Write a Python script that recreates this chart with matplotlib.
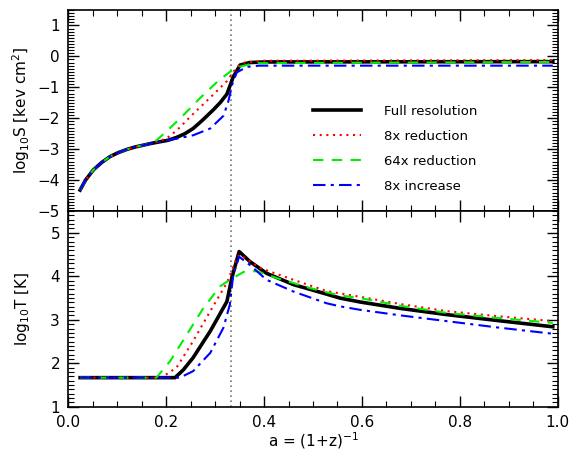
import matplotlib
matplotlib.use('Agg')
import matplotlib.pyplot as plt
from matplotlib.ticker import MultipleLocator

plt.rcParams['font.family'] = ['DejaVu Sans']
plt.rcParams['mathtext.fontset'] = 'dejavusans'

# expansion factor where the vertical dotted line is drawn
a_mark = 1.0 / 3.0

labels = ['Full resolution', '8x reduction', '64x reduction', '8x increase']

# log10 S (entropy)
a_s_full = [0.024, 0.035, 0.051, 0.068, 0.085, 0.102, 0.119, 0.136, 0.153, 0.170, 0.187,
            0.204, 0.221, 0.238, 0.255, 0.275, 0.296, 0.310, 0.324, 0.337, 0.351, 0.370, 0.400, 0.990]
s_full = [-4.32, -4.00, -3.67, -3.43, -3.24, -3.11, -3.01, -2.93, -2.87, -2.81, -2.76,
          -2.71, -2.62, -2.50, -2.33, -2.05, -1.73, -1.50, -1.22, -0.66, -0.28, -0.20, -0.18, -0.17]

a_s_8red = [0.024, 0.035, 0.051, 0.068, 0.085, 0.102, 0.119, 0.136, 0.153, 0.170, 0.187,
            0.205, 0.221, 0.255, 0.290, 0.324, 0.344, 0.360, 0.400, 0.990]
s_8red = [-4.32, -4.00, -3.67, -3.43, -3.24, -3.11, -3.01, -2.93, -2.87, -2.81, -2.74,
          -2.60, -2.40, -1.86, -1.33, -0.80, -0.35, -0.20, -0.14, -0.12]

a_s_64red = [0.024, 0.035, 0.051, 0.068, 0.085, 0.102, 0.119, 0.136, 0.153, 0.170, 0.181,
             0.201, 0.235, 0.269, 0.303, 0.330, 0.351, 0.380, 0.990]
s_64red = [-4.32, -4.00, -3.67, -3.43, -3.24, -3.11, -3.01, -2.93, -2.87, -2.80, -2.70,
           -2.42, -1.90, -1.35, -0.84, -0.50, -0.33, -0.22, -0.18]

a_s_8inc = [0.024, 0.035, 0.051, 0.068, 0.085, 0.102, 0.119, 0.136, 0.153, 0.170, 0.187,
            0.204, 0.221, 0.255, 0.290, 0.317, 0.327, 0.335, 0.344, 0.365, 0.390, 0.990]
s_8inc = [-4.32, -4.00, -3.67, -3.43, -3.24, -3.11, -3.01, -2.93, -2.87, -2.81, -2.76,
          -2.71, -2.66, -2.55, -2.33, -1.92, -1.45, -0.90, -0.52, -0.34, -0.30, -0.30]

# log10 T (temperature)
a_t_full = [0.024, 0.218, 0.235, 0.255, 0.290, 0.324, 0.334, 0.349, 0.371, 0.405,
            0.460, 0.528, 0.555, 0.596, 0.680, 0.773, 0.880, 0.990]
t_full = [1.67, 1.67, 1.85, 2.13, 2.74, 3.42, 3.96, 4.57, 4.34, 4.07,
          3.81, 3.59, 3.50, 3.41, 3.26, 3.12, 2.98, 2.84]

a_t_8red = [0.024, 0.190, 0.221, 0.255, 0.290, 0.324, 0.341, 0.350, 0.392, 0.460,
            0.528, 0.596, 0.680, 0.773, 0.880, 0.990]
t_8red = [1.67, 1.67, 1.90, 2.51, 3.20, 3.85, 4.34, 4.50, 4.19, 3.92,
          3.66, 3.53, 3.36, 3.20, 3.08, 2.97]

a_t_64red = [0.024, 0.180, 0.208, 0.242, 0.276, 0.310, 0.330, 0.358, 0.385, 0.426,
             0.494, 0.555, 0.596, 0.680, 0.773, 0.880, 0.990]
t_64red = [1.67, 1.67, 2.05, 2.66, 3.27, 3.77, 3.92, 4.10, 4.12, 3.96,
           3.73, 3.56, 3.50, 3.32, 3.16, 3.04, 2.93]

a_t_8inc = [0.024, 0.228, 0.255, 0.290, 0.317, 0.330, 0.337, 0.349, 0.371, 0.405,
            0.460, 0.528, 0.555, 0.596, 0.680, 0.773, 0.880, 0.990]
t_8inc = [1.67, 1.67, 1.82, 2.24, 2.82, 3.35, 4.04, 4.45, 4.26, 3.92,
          3.65, 3.38, 3.31, 3.23, 3.10, 2.97, 2.82, 2.68]

styles = [dict(color='black', lw=2.6, ls='-'),
          dict(color='#ff0000', lw=1.5, ls=(0, (1, 2.2))),
          dict(color='#00ee00', lw=1.5, ls=(0, (5, 4))),
          dict(color='#0000ff', lw=1.5, ls=(0, (6, 2.5, 1.5, 2.5)))]

fig = plt.figure(figsize=(5.72, 4.53), dpi=100)
ax1 = fig.add_axes([0.1195, 0.534, 0.8555, 0.444])
ax2 = fig.add_axes([0.1195, 0.102, 0.8555, 0.432])

top_data = [(a_s_full, s_full), (a_s_8red, s_8red), (a_s_64red, s_64red), (a_s_8inc, s_8inc)]
bot_data = [(a_t_full, t_full), (a_t_8red, t_8red), (a_t_64red, t_64red), (a_t_8inc, t_8inc)]

for (x, y), st, lab in zip(top_data, styles, labels):
    ax1.plot(x, y, label=lab, **st)
for (x, y), st in zip(bot_data, styles):
    ax2.plot(x, y, **st)

for ax in (ax1, ax2):
    ax.axvline(a_mark, color='#777777', ls=(0, (1, 2)), lw=1.2, zorder=0)
    ax.set_xlim(0, 1)
    ax.xaxis.set_major_locator(MultipleLocator(0.2))
    ax.xaxis.set_minor_locator(MultipleLocator(0.05))
    ax.yaxis.set_major_locator(MultipleLocator(1))
    ax.yaxis.set_minor_locator(MultipleLocator(0.1))
    ax.tick_params(which='both', direction='in', top=True, right=True, labelsize=11, pad=6)
    ax.tick_params(which='major', length=8, width=1)
    ax.tick_params(which='minor', length=4, width=0.8)
    for sp in ax.spines.values():
        sp.set_linewidth(1.2)

ax1.set_ylim(-5, 1.5)
ax2.set_ylim(1, 5.5)
ax1.tick_params(labelbottom=False)
ax2.set_xticks([0.0, 0.2, 0.4, 0.6, 0.8, 1.0])
ax2.set_xticklabels(['0.0', '0.2', '0.4', '0.6', '0.8', '1.0'])

ax1.set_ylabel(r'log$_{10}$S [kev cm$^2$]', fontsize=11)
ax2.set_ylabel(r'log$_{10}$T [K]', fontsize=11)
ax2.set_xlabel(r'a = (1+z)$^{-1}$', fontsize=11)
ax1.yaxis.set_label_coords(-0.075, 0.5)
ax2.yaxis.set_label_coords(-0.075, 0.5)
ax2.xaxis.set_label_coords(0.5, -0.118)

ax1.legend(loc='center left', bbox_to_anchor=(0.5, 0.31), frameon=False, fontsize=9.5,
           borderpad=0, borderaxespad=0, handlelength=3.6, handletextpad=1.8, labelspacing=0.9)

fig.savefig('out.png', dpi=100)
